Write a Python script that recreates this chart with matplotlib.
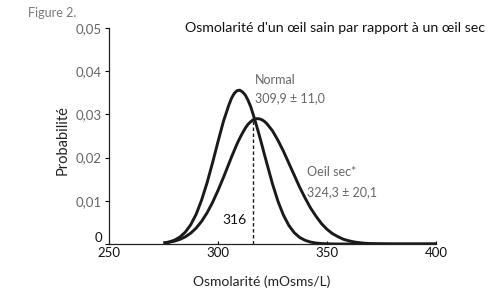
import matplotlib
matplotlib.use("Agg")
import matplotlib.pyplot as plt

plt.rcParams['font.family'] = ['Lato', 'DejaVu Sans']

# Data
osm = [275, 277.5, 280, 282.5, 285, 287.5, 290, 292.5, 295, 297.5,
       300, 302.5, 305, 306.25, 307.5, 308.75, 310, 311.25, 312.5, 313.75,
       315, 316.25, 317.5, 318.75, 320, 321.25, 322.5,
       325, 327.5, 330, 332.5, 335, 337.5, 340, 342.5, 345, 347.5,
       350, 352.5, 355, 357.5, 360, 362.5, 365, 367.5, 370, 372.5,
       380, 390, 400]
normal = [0.00023, 0.00046, 0.00088, 0.0016, 0.00275, 0.00447, 0.0069, 0.0102, 0.0142, 0.0188,
          0.0237, 0.0284, 0.0322, 0.0338, 0.0349, 0.0355, 0.0356, 0.0352, 0.0345, 0.0333,
          0.0318, 0.0298, 0.0277, 0.0255, 0.0232, 0.0208, 0.0185,
          0.0139, 0.0099, 0.0067, 0.0043, 0.0026, 0.0015, 0.00084, 0.00044, 0.00022, 0.0001,
          0.00005, 0.00002, 0, 0, 0, 0, 0, 0, 0, 0,
          0, 0, 0]
oeil_sec = [0.00023, 0.00039, 0.00066, 0.00106, 0.00166, 0.00252, 0.0037, 0.00526, 0.00723, 0.00962,
            0.0124, 0.0154, 0.0186, 0.0202, 0.0217, 0.0232, 0.0245, 0.0257, 0.0268, 0.0277,
            0.0283, 0.0288, 0.0290, 0.0290, 0.0288, 0.0284, 0.0278,
            0.0262, 0.0240, 0.0215, 0.0187, 0.0159, 0.0131, 0.0106, 0.0083, 0.0064, 0.0047,
            0.0034, 0.0024, 0.0017, 0.0011, 0.00074, 0.00047, 0.00029, 0.00017, 0.0001, 0.00005,
            0, 0, 0]
seuil_x = 316
seuil_y = 0.0288
x_ticks = [250, 300, 350, 400]
y_ticks = [0, 0.01, 0.02, 0.03, 0.04, 0.05]
y_labels = ['0', '0,01', '0,02', '0,03', '0,04', '0,05']

W, H = 490, 289
fig = plt.figure(figsize=(W / 100, H / 100), dpi=100)
ax = fig.add_axes([109 / W, 1 - 244 / H, (436 - 109) / W, (244 - 28) / H])

ax.plot(osm, normal, color='#1a1a1a', lw=2.1, solid_capstyle='butt', solid_joinstyle='round')
ax.plot(osm, oeil_sec, color='#1a1a1a', lw=2.1, solid_capstyle='butt', solid_joinstyle='round')
ax.plot([seuil_x, seuil_x], [0, seuil_y], color='#1a1a1a', lw=1.0, ls=(0, (2.5, 1.8)))

ax.set_xlim(250, 400)
ax.set_ylim(0, 0.05)
for s in ['top', 'right']:
    ax.spines[s].set_visible(False)
for s in ['left', 'bottom']:
    ax.spines[s].set_linewidth(0.9)
    ax.spines[s].set_color('#222222')

ax.set_xticks(x_ticks)
ax.set_xticklabels([str(v) for v in x_ticks])
ax.set_yticks(y_ticks)
ax.set_yticklabels(y_labels)
ax.tick_params(axis='x', direction='in', length=2.5, width=0.8, pad=2, labelsize=9.5, labelcolor='#111111')
ax.tick_params(axis='y', direction='out', length=3, width=0.8, pad=2, labelsize=9.5, labelcolor='#666666')
ylab0 = ax.get_yticklabels()[0]
ylab0.set_color('#111111')
ylab0.set_va('bottom')

ax.set_xlabel('Osmolarité (mOsms/L)', fontsize=10, color='#222222')
ax.set_ylabel('Probabilité', fontsize=10.5, color='#222222')
ax.xaxis.label.set_va('center')
ax.yaxis.label.set_va('center')
ax.xaxis.set_label_coords((262 - 109) / 327, -(282 - 244) / 216)
ax.yaxis.set_label_coords((63 - 109) / 327, (244 - 140) / 216)

ax.text(317, 0.038, 'Normal', fontsize=9, color='#666666', va='center', ha='left')
ax.text(317, 0.0338, '309,9 ± 11,0', fontsize=9, color='#666666', va='center', ha='left')
ax.text(340.8, 0.0167, 'Oeil sec*', fontsize=9, color='#666666', va='center', ha='left')
ax.text(340.8, 0.0120, '324,3 ± 20,1', fontsize=9, color='#666666', va='center', ha='left')
ax.text(313.3, 0.0056, '316', fontsize=10, color='#111111', va='center', ha='right')

ax.set_title("Osmolarité d'un œil sain par rapport à un œil sec",
             fontsize=10.2, color='#111111', x=(335 - 109) / 327, y=1.0, pad=0, va='center')
fig.text(28 / W, 1 - 13 / H, 'Figure 2.', fontsize=9, color='#777777', ha='left', va='center')

fig.savefig('out.png', dpi=100)
